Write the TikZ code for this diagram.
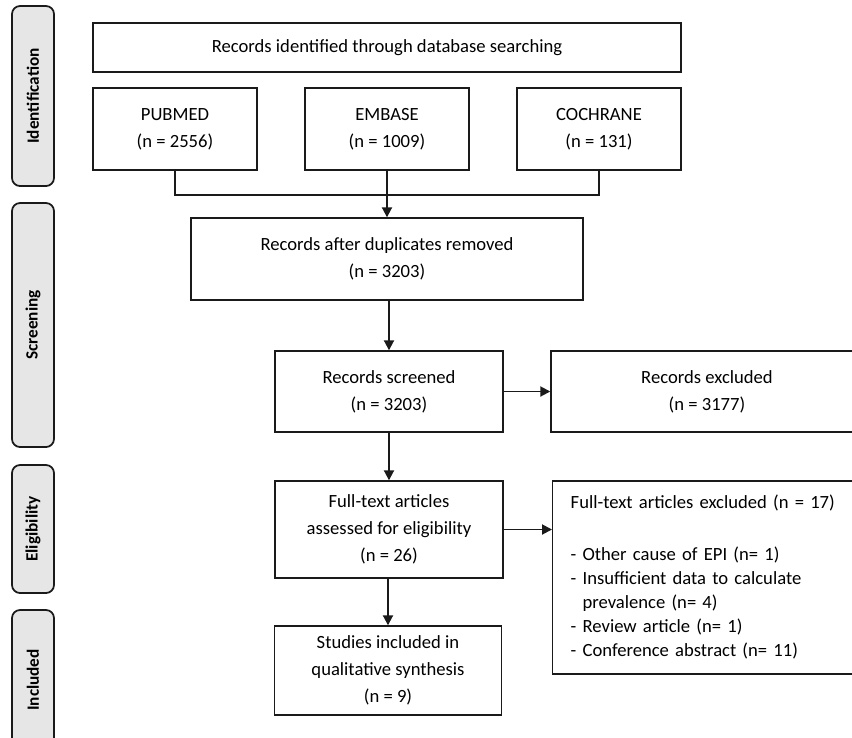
\documentclass[tikz,border=0pt]{standalone}
\usepackage{fontspec}
\setmainfont{Carlito}
\usepackage{xcolor}
\usepackage{tikz}
\usetikzlibrary{arrows.meta}
\definecolor{phasefill}{HTML}{E6E6E6}
\definecolor{line}{HTML}{1A1A1A}
\tikzset{
  box/.style={draw=line, line width=0.8pt, align=center, inner sep=2pt,
    font=\fontsize{10.6}{15.3}\selectfont},
  phase/.style={draw=line, fill=phasefill, line width=1pt, rounded corners=1.6mm,
    rotate=90, minimum height=0.84cm, inner sep=0pt,
    font=\fontsize{9.8}{11}\selectfont\bfseries},
  conn/.style={line width=0.9pt, draw=line},
  arr/.style={conn, line width=1.1pt, -{Triangle[length=2mm, width=2mm]}}
}

\begin{document}
\begin{tikzpicture}[x=0.2mm, y=-0.2mm]
\clip (0,0) rectangle (852,738);

% phases
\node[phase, minimum width=3.6cm] (ident) at (33,96) {Identification};
\node[phase, minimum width=4.88cm] (screen) at (33,325) {Screening};
\node[phase, minimum width=2.56cm] (elig) at (33,529) {Eligibility};
\node[phase, minimum width=2.8cm] (incl) at (33,680) {Included};

% identification
\node[box, minimum width=11.76cm, minimum height=0.98cm] (search) at (387,47.5)
  {Records identified through database searching};
\node[box, minimum width=3.28cm, minimum height=1.64cm] (pubmed) at (175,129)
  {PUBMED\\(n = 2556)};
\node[box, minimum width=3.28cm, minimum height=1.64cm] (embase) at (387,129)
  {EMBASE\\(n = 1009)};
\node[box, minimum width=3.28cm, minimum height=1.64cm] (cochrane) at (599,129)
  {COCHRANE\\(n = 131)};

% screening
\node[box, minimum width=7.84cm, minimum height=1.64cm] (dup) at (387,259)
  {Records after duplicates removed\\(n = 3203)};
\node[box, minimum width=4.56cm, minimum height=1.62cm] (screened) at (389,391.5)
  {Records screened\\(n = 3203)};
\node[box, minimum width=6.24cm, minimum height=1.62cm] (excl) at (707,391.5)
  {Records excluded\\(n = 3177)};

% eligibility
\node[box, minimum width=4.56cm, minimum height=1.94cm] (fulltext) at (389,529.5)
  {Full-text articles\\assessed for eligibility\\(n = 26)};
\node[box, minimum height=3.86cm, anchor=west, align=left, text width=5.52cm,
  inner xsep=0.36cm, font=\fontsize{10.6}{13.6}\selectfont] (ftexcl) at (552,577.5)
  {\begin{tabular}{@{}l@{\ }l@{}}
   \multicolumn{2}{@{}l@{}}{Full-text articles excluded (n = 17)}\\[16pt]
   - & Other cause of EPI (n= 1)\\
   - & Insufficient data to calculate\\
     & prevalence (n= 4)\\
   - & Review article (n= 1)\\
   - & Conference abstract (n= 11)
   \end{tabular}};

% included
\node[box, minimum width=4.54cm, minimum height=1.78cm] (studies) at (388,670.5)
  {Studies included in\\qualitative synthesis\\(n = 9)};

% connectors
\draw[conn] (pubmed.south) -- ++(0,24) -| (cochrane.south);
\draw[arr] (embase.south) -- (dup.north);
\draw[arr] (dup.south -| screened.north) -- (screened.north);
\draw[arr] (screened.east) -- (excl.west);
\draw[arr] (screened.south) -- (fulltext.north);
\draw[arr] (fulltext.east) -- (fulltext.east -| ftexcl.west);
\draw[arr] (fulltext.south) -- (fulltext.south -| studies.north) -- (studies.north);
\end{tikzpicture}
\end{document}
